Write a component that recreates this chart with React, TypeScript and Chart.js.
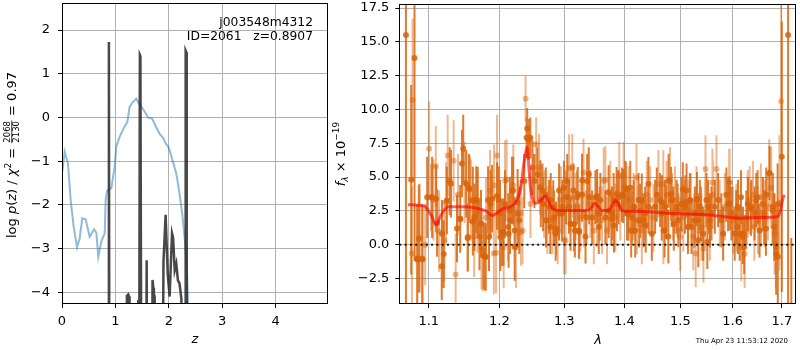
import { useEffect, useRef } from 'react';
import { Chart, registerables } from 'chart.js';

Chart.register(...registerables);

const FONT = '"DejaVu Sans", sans-serif';

// ---------- Left panel: p(z) ----------
const zChi = [0.006, 0.05, 0.112, 0.162, 0.218, 0.281, 0.33, 0.38, 0.443, 0.518, 0.6, 0.643, 0.68, 0.736, 0.8, 0.817, 0.842, 0.923, 0.986, 1.017, 1.08, 1.154, 1.223, 1.266, 1.316, 1.39, 1.44, 1.53, 1.61, 1.69, 1.765, 1.83, 1.89, 1.95, 2.0, 2.05, 2.09, 2.14, 2.2, 2.25, 2.3, 2.34, 2.36, 2.38];
const chiCurve = [-1.24, -0.785, -1.05, -1.89, -2.5, -2.97, -2.77, -2.31, -2.33, -2.73, -2.56, -2.64, -3.19, -2.84, -2.65, -1.89, -1.68, -1.62, -1.13, -0.67, -0.44, -0.25, -0.1, 0.24, 0.335, 0.43, 0.32, 0.17, 0.0, -0.03, -0.23, -0.38, -0.46, -0.61, -0.69, -0.9, -1.07, -1.28, -1.74, -2.2, -2.8, -3.57, -4.25, -5.0];

const zPz = [0, 0.868, 0.878, 0.888, 1.2, 1.215, 1.24, 1.255, 1.265, 1.415, 1.428, 1.44, 1.458, 1.468, 1.49, 1.57, 1.585, 1.6, 1.68, 1.695, 1.71, 1.72, 1.735, 1.75, 1.87, 1.9, 1.94, 1.98, 2.015, 2.06, 2.08, 2.11, 2.14, 2.17, 2.2, 2.235, 2.25, 2.305, 2.315, 2.325, 2.335, 4.98];
const logPz = [-9, -9, 1.73, -9, -9, -4.08, -4.05, -4.1, -9, -9, -4.18, -9, 1.43, 1.4, -9, -9, -3.27, -9, -9, -3.72, -3.9, -4.05, -4.1, -9, -9, -3.3, -2.23, -3.6, -4.1, -2.65, -2.75, -3.5, -3.35, -3.73, -3.8, -4.15, -9, -9, 1.53, 1.5, -9, -9];

const zTicks = [0, 1, 2, 3, 4];
const logpTicks = [-4, -3, -2, -1, 0, 1, 2];

// ---------- Right panel: spectrum ----------
const lamDark = [1.0694, 1.0764, 1.0808, 1.0844, 1.0915, 1.0978, 1.1036, 1.11, 1.1113, 1.1177, 1.1204, 1.1287, 1.1305, 1.1389, 1.1435, 1.1459, 1.1477, 1.1519, 1.1539, 1.1557, 1.1614, 1.1662, 1.1709, 1.1767, 1.1786, 1.1834, 1.1893, 1.199, 1.201, 1.2039, 1.2084, 1.2138, 1.2158, 1.2188, 1.2228, 1.2273, 1.2298, 1.2374, 1.2409, 1.2419, 1.2434, 1.245, 1.2501, 1.2531, 1.2577, 1.2629, 1.2655, 1.2707, 1.2758, 1.2785, 1.2837, 1.2863, 1.2916, 1.2969, 1.2995, 1.3048, 1.3075, 1.3155, 1.3209, 1.3236, 1.329, 1.3345, 1.3372, 1.3399, 1.3454, 1.3509, 1.3565, 1.3592, 1.3676, 1.3732, 1.3788, 1.3816, 1.3873, 1.3901, 1.3958, 1.4016, 1.4045, 1.4102, 1.4131, 1.4189, 1.4247, 1.4276, 1.4335, 1.4364, 1.4423, 1.4482, 1.4541, 1.4571, 1.463, 1.466, 1.472, 1.478, 1.4841, 1.4871, 1.4932, 1.4963, 1.5024, 1.5086, 1.5116, 1.5178, 1.5209, 1.5272, 1.5335, 1.5366, 1.5429, 1.5492, 1.5524, 1.5588, 1.5652, 1.5716, 1.578, 1.5813, 1.5877, 1.591, 1.5975, 1.604, 1.6106, 1.6139, 1.6205, 1.6272, 1.6305, 1.6372, 1.6439, 1.6472, 1.654, 1.6608, 1.6676, 1.6744, 1.6813, 1.6882, 1.6916, 1.7, 1.7132, 1.72,
  1.0866, 1.0843, 1.091, 1.1045, 1.118, 1.1248, 1.1434, 1.1567, 1.1544, 1.1614, 1.1637, 1.1684, 1.1731, 1.1801, 1.1848, 1.1871, 1.1966, 1.2013, 1.2061, 1.2133, 1.2157, 1.2205, 1.2229, 1.2277, 1.2467, 1.2622, 1.2665, 1.2711, 1.2778, 1.2825, 1.2869, 1.2917, 1.2962, 1.3031, 1.3101, 1.3148, 1.3171, 1.3218, 1.3241, 1.3288, 1.3359, 1.3406, 1.3537, 1.358, 1.3731, 1.3777, 1.3822, 1.3867, 1.398, 1.4027, 1.4072, 1.4118, 1.4164, 1.4257, 1.4304, 1.4374, 1.4421, 1.4666, 1.4712, 1.4736, 1.4785, 1.4831, 1.488, 1.495, 1.5046, 1.5093, 1.5142, 1.519, 1.5263, 1.5311, 1.5336, 1.5385, 1.5508, 1.5557, 1.594, 1.607, 1.61, 1.6165, 1.6198, 1.623, 1.6365, 1.65, 1.6637, 1.667, 1.6808, 1.6843, 1.6877, 1.6912];
const fluxDark = [15.5, 4.8, 13.8, -1.1, -1.1, 3.5, 3.5, 3.4, 1.6, -1.6, -0.7, 4.7, 4.5, 1.2, 1.9, 6.0, 7.1, 4.5, 0.5, 4.2, 1.7, 3.3, 0.6, -0.8, -0.9, 3.3, 3.4, 3.3, 2.3, 0.9, 3.0, 0.8, 1.8, 4.0, 1.05, 3.1, 1.8, 4.7, 7.9, 8.6, 7.8, 7.8, 5.7, 4.7, 5.2, 3.3, 4.0, 3.7, 2.8, 3.3, 2.0, 0.8, 2.3, 2.8, 4.2, 4.7, 2.8, 1.5, 3.5, 1.05, 3.7, 0.6, 4.7, 5.2, 2.0, 3.5, 1.3, 3.3, 2.0, 2.5, 2.3, 3.3, 3.0, 3.5, 3.7, 4.2, 2.3, 4.2, 2.0, 1.05, 3.3, 2.5, 1.8, 2.3, 2.8, 0.8, 2.8, 3.7, 3.3, 2.3, 2.8, 0.6, 3.3, 2.3, 2.8, 1.8, 3.0, 2.8, 4.0, 3.3, 1.3, 2.3, 1.8, 2.8, 0.8, 3.3, 2.8, 2.3, 2.8, 3.3, 1.8, 0.8, 3.7, 3.0, 2.3, 0.8, 2.8, 0.8, 0.8, 2.0, 3.0, 2.8, 2.3, 3.3, 1.05, 3.0, 3.7, 5.3, 2.8, -0.7, -0.9, 6.5, 15.5, -4.5,
  0.44, -1.03, -1.03, 3.5, 0.81, 3.26, 1.91, 4.1, 0.56, 3.26, 2.03, 3.26, 1.54, -0.91, 0.56, 3.0, 3.6, 0.56, 0.93, 1.3, 2.52, 4.0, -0.17, 2.28, 7.9, 4.24, 3.0, 1.79, 1.3, 2.76, 1.18, 4.0, 2.28, 3.5, 1.54, 4.0, 1.05, 3.75, 0.93, 4.73, 2.03, 3.5, 3.6, 2.28, 3.87, 1.91, 1.42, 3.75, 3.6, 4.1, 2.28, 1.05, 2.76, 1.79, 3.26, 1.42, 4.49, 3.13, 1.05, 2.4, 4.73, 3.75, 1.54, 2.52, 4.1, 3.13, 1.3, 3.26, 1.79, 3.38, 0.32, 2.28, 0.2, 1.79, 3.06, 2.03, 1.3, 3.5, 0.56, -0.17, 2.65, 3.5, 2.03, 1.18, 2.52, 1.3, -0.17, 3.0];
const errDark = [20, 7, 15, 4, 4, 3, 2.5, 2.5, 2.5, 2.5, 2.5, 2.5, 2.5, 2.5, 2.5, 2.5, 2.5, 2.5, 2.5, 2.5, 2.5, 2.5, 2.5, 2.5, 2.5, 2.5, 2.5, 2.5, 2.5, 2.5, 2.5, 2.5, 2.5, 2.5, 2.5, 2.5, 2.5, 2, 1.5, 1.5, 1.5, 1.5, 2, 2, 2, 2, 2, 2, 2, 2, 2, 2, 2, 2, 2, 2, 2, 2, 2, 2, 2, 2, 2, 2, 2, 2, 2, 2, 2, 2, 2, 2, 2, 2, 2, 2, 2, 2, 2, 2, 2, 2, 2, 2, 2, 2, 2, 2, 2, 2, 2, 2, 2, 2, 2, 2, 2, 2, 2, 2, 2, 2, 2, 2, 2, 2, 2, 2, 2, 2, 2, 2, 2, 2, 2, 2, 2, 2, 2, 2, 2, 2, 2, 2, 2, 2, 2, 2, 2.5, 3, 4, 10, 20, 5,
  4, 4, 4, 3, 2.5, 2.5, 2.5, 2.5, 2.5, 2.5, 2.5, 2.5, 2.5, 2.5, 2.5, 2.5, 2.5, 2.5, 2.5, 2.5, 2.5, 2.5, 2.5, 2.5, 1.5, 2, 2, 2, 2, 2, 2, 2, 2, 2, 2, 2, 2, 2, 2, 2, 2, 2, 2, 2, 2, 2, 2, 2, 2, 2, 2, 2, 2, 2, 2, 2, 2, 2, 2, 2, 2, 2, 2, 2, 2, 2, 2, 2, 2, 2, 2, 2, 2, 2, 2, 2, 2, 2, 2, 2, 2, 2, 2, 2, 2.5, 2.5, 3, 3];

const lamLight = [1.0773, 1.0782, 1.0879, 1.0951, 1.1004, 1.1063, 1.1095, 1.114, 1.1213, 1.1236, 1.1259, 1.1342, 1.137, 1.1403, 1.1496, 1.1586, 1.1633, 1.1681, 1.1738, 1.1805, 1.1863, 1.1922, 1.1951, 1.1966, 1.2064, 1.2108, 1.2208, 1.2248, 1.2323, 1.2348, 1.2394, 1.247, 1.2557, 1.2603, 1.2681, 1.2733, 1.2811, 1.2895, 1.2947, 1.3022, 1.3102, 1.3129, 1.3182, 1.3263, 1.3317, 1.3427, 1.3482, 1.3537, 1.362, 1.3648, 1.3704, 1.376, 1.3845, 1.393, 1.3987, 1.4073, 1.416, 1.4218, 1.4305, 1.4393, 1.4452, 1.4511, 1.46, 1.469, 1.475, 1.4811, 1.4902, 1.4993, 1.5055, 1.5147, 1.5241, 1.5303, 1.5397, 1.5461, 1.5556, 1.562, 1.5684, 1.5748, 1.5845, 1.5942, 1.6008, 1.6073, 1.6172, 1.6238, 1.6338, 1.6405, 1.6506, 1.6574, 1.6642, 1.671, 1.6778, 1.6847, 1.6951, 1.6985,
  1.2085, 1.1754, 1.1919, 1.2325, 1.2995, 1.3077, 1.3312, 1.3912, 1.4211, 1.4689, 1.4998, 1.5434, 1.5473, 1.5606, 1.5287, 1.3676, 1.5931, 1.6298, 1.6433, 1.6568, 1.6739];
const fluxLight = [-0.65, 10.7, 0.5, 0.0, 7.1, 3.3, 5.8, 1.0, 0.3, 3.1, 6.6, 6.2, -2.2, 3.7, 4.6, 3.3, 0.6, 2.4, -0.3, 2.0, 4.0, 4.4, -0.6, 6.6, -0.2, 4.8, 4.4, -0.2, 2.3, 1.05, 10.8, 3.0, 7.4, 5.7, 3.0, 1.8, 1.8, 1.05, 3.3, 0.3, 3.5, 5.7, 2.8, 2.0, 2.3, 3.0, 1.05, 2.3, 1.8, 4.7, 1.05, 3.7, 2.0, 2.8, 5.1, 3.3, 2.8, 1.8, 1.05, 3.7, 3.3, 2.0, 4.5, 1.05, 3.7, 4.7, 3.3, 1.05, 2.0, 2.3, 0.6, 3.3, 1.3, 2.3, 1.3, 3.7, 5.6, 2.3, 2.8, 4.6, 1.8, 2.0, -0.2, -0.7, 3.3, 3.7, 1.8, 2.3, 2.3, 2.8, 4.2, 0.8, 3.1, 10.6,
  4.73, -0.42, -0.66, 0.93, 0.32, 5.66, 5.34, 5.1, 4.97, 4.49, 0.56, -0.3, 5.59, 4.6, -0.66, 4.78, 4.6, 3.0, 1.3, 3.5, 5.29];
const errLight = [5, 6, 4, 3, 3.5, 3, 3, 3, 3, 3, 3, 3, 3, 3, 3, 3, 3, 3, 3, 3, 3, 3, 3, 3, 3, 3, 3, 3, 2.5, 2.5, 1.7, 2.5, 2, 2.5, 2.5, 2.5, 2.5, 2.5, 2.5, 2.5, 2.5, 2.5, 2.5, 2.5, 2.5, 2.5, 2.5, 2.5, 2.5, 2.5, 2.5, 2.5, 2.5, 2.5, 2.5, 2.5, 2.5, 2.5, 2.5, 2.5, 2.5, 2.5, 2.5, 2.5, 2.5, 2.5, 2.5, 2.5, 2.5, 2.5, 2.5, 2.5, 2.5, 2.5, 2.5, 2.5, 2.5, 2.5, 2.5, 2.5, 2.5, 2.5, 2.5, 2.5, 2.5, 2.5, 2.5, 2.5, 2.5, 2.5, 3, 3, 5, 8,
  3, 3, 3, 2.5, 2.5, 2.5, 2.5, 2.5, 2.5, 2.5, 2.5, 2.5, 2.5, 2.5, 2.5, 2.5, 2.5, 2.5, 2.5, 2.5, 2.5];

const lamModel = [1.072, 1.085, 1.094, 1.0977, 1.104, 1.1099, 1.115, 1.121, 1.127, 1.147, 1.166, 1.18, 1.189, 1.195, 1.205, 1.22, 1.227, 1.232, 1.236, 1.24, 1.242, 1.2434, 1.247, 1.251, 1.255, 1.263, 1.27, 1.276, 1.282, 1.292, 1.307, 1.334, 1.345, 1.349, 1.354, 1.362, 1.373, 1.379, 1.3845, 1.389, 1.396, 1.407, 1.442, 1.466, 1.502, 1.527, 1.559, 1.591, 1.617, 1.644, 1.678, 1.692, 1.697, 1.703, 1.706];
const fluxModel = [2.96, 2.92, 2.85, 2.65, 2.1, 1.45, 2.0, 2.55, 2.8, 2.8, 2.7, 2.5, 2.15, 2.3, 2.65, 2.9, 3.4, 4.2, 5.7, 6.9, 7.2, 6.45, 4.2, 3.26, 3.06, 3.26, 3.6, 3.1, 2.65, 2.52, 2.52, 2.52, 2.77, 3.06, 2.9, 2.52, 2.52, 2.9, 3.26, 3.1, 2.52, 2.47, 2.43, 2.35, 2.28, 2.25, 2.18, 2.03, 1.96, 2.0, 2.03, 2.08, 2.52, 3.5, 3.68];

const lamTicks = [1.1, 1.2, 1.3, 1.4, 1.5, 1.6, 1.7];
const fluxTicks = [-2.5, 0, 2.5, 5, 7.5, 10, 12.5, 15, 17.5];
const LAM_MIN = 1.0607;
const LAM_MAX = 1.73;

const minus = (s: string) => s.replace('-', '\u2212');

type Piece = { t: string; size: number; italic?: boolean; dy?: number; frac?: [string, string] };

function fontOf(p: Piece) {
  return `${p.italic ? 'italic ' : ''}${p.size}px ${FONT}`;
}

function drawPieces(ctx: CanvasRenderingContext2D, pieces: Piece[], cx: number, cy: number, rotate: boolean) {
  ctx.save();
  ctx.translate(cx, cy);
  if (rotate) ctx.rotate(-Math.PI / 2);
  ctx.fillStyle = '#000';
  ctx.textBaseline = 'alphabetic';
  ctx.textAlign = 'left';
  const widths = pieces.map((p) => {
    ctx.font = fontOf(p);
    if (p.frac) return Math.max(ctx.measureText(p.frac[0]).width, ctx.measureText(p.frac[1]).width) + 2;
    return ctx.measureText(p.t).width;
  });
  const total = widths.reduce((a, b) => a + b, 0);
  let x = -total / 2;
  pieces.forEach((p, i) => {
    ctx.font = fontOf(p);
    const w = widths[i];
    if (p.frac) {
      ctx.textAlign = 'center';
      ctx.fillText(p.frac[0], x + w / 2, -5.8);
      ctx.fillText(p.frac[1], x + w / 2, 3.2);
      ctx.fillRect(x + 0.5, -4.6, w - 1, 0.8);
      ctx.textAlign = 'left';
    } else {
      ctx.fillText(p.t, x, p.dy || 0);
    }
    x += w;
  });
  ctx.restore();
}

function frame(chart: any) {
  const { ctx, chartArea: a } = chart;
  ctx.save();
  ctx.strokeStyle = '#000';
  ctx.lineWidth = 1;
  ctx.strokeRect(Math.round(a.left) + 0.5, Math.round(a.top) + 0.5, Math.round(a.right - a.left) - 1, Math.round(a.bottom - a.top) - 1);
  ctx.restore();
}

function gridOpts() {
  return { color: '#b0b0b0', lineWidth: 1, tickColor: '#000', tickLength: 4, drawTicks: true };
}

function tickFont() {
  return { family: FONT, size: 13 };
}

const leftLabels = {
  id: 'leftLabels',
  afterDraw(chart: any) {
    frame(chart);
    const ctx = chart.ctx as CanvasRenderingContext2D;
    drawPieces(ctx, [
      { t: 'log ', size: 13 },
      { t: 'p', size: 13, italic: true },
      { t: '(', size: 13 },
      { t: 'z', size: 13, italic: true },
      { t: ') / ', size: 13 },
      { t: '\u03c7', size: 13, italic: true },
      { t: '2', size: 9, dy: -5.5 },
      { t: ' = ', size: 13 },
      { t: '', size: 8.5, frac: ['2068', '2130'] },
      { t: ' = 0.97', size: 13 },
    ], 16, 155, true);
    ctx.save();
    ctx.fillStyle = '#000';
    ctx.font = `12.3px ${FONT}`;
    ctx.textAlign = 'right';
    ctx.textBaseline = 'alphabetic';
    ctx.fillText('j003548m4312', 313, 25.5);
    ctx.fillText('ID=2061   z=0.8907', 313, 40);
    ctx.font = `italic 13px ${FONT}`;
    ctx.textAlign = 'center';
    ctx.fillText('z', 195, 343);
    ctx.restore();
  },
};

const rightLabels = {
  id: 'rightLabels',
  afterDraw(chart: any) {
    frame(chart);
    const ctx = chart.ctx as CanvasRenderingContext2D;
    drawPieces(ctx, [
      { t: 'f', size: 13, italic: true },
      { t: '\u03bb', size: 9, italic: true, dy: 3 },
      { t: ' \u00d7 10', size: 13 },
      { t: '\u221219', size: 9, dy: -6 },
    ], 15, 154, true);
    ctx.save();
    ctx.fillStyle = '#000';
    ctx.font = `italic 13px ${FONT}`;
    ctx.textAlign = 'center';
    ctx.textBaseline = 'alphabetic';
    ctx.fillText('\u03bb', 598 - 330, 344);
    ctx.font = `7px ${FONT}`;
    ctx.textAlign = 'right';
    ctx.fillText('Thu Apr 23 11:53:12 2020', 788 - 330, 342.5);
    ctx.restore();
  },
};

function pts(xs: number[], ys: number[]) {
  return xs.map((x, i) => ({ x, y: ys[i] }));
}

function errSegs(xs: number[], ys: number[], es: number[]) {
  const out: { x: number; y: number | null }[] = [];
  xs.forEach((x, i) => {
    out.push({ x, y: ys[i] - es[i] }, { x, y: ys[i] + es[i] }, { x, y: null });
  });
  return out;
}

export default function App() {
  const leftRef = useRef<HTMLCanvasElement>(null);
  const rightRef = useRef<HTMLCanvasElement>(null);

  useEffect(() => {
    const left = new Chart(leftRef.current!, {
      type: 'scatter',
      data: {
        datasets: [
          {
            type: 'line',
            data: pts(zPz, logPz),
            borderColor: 'rgba(40,40,40,0.85)',
            borderWidth: 2.5,
            pointRadius: 0,
            tension: 0,
            order: 1,
          } as any,
          {
            type: 'line',
            data: pts(zChi, chiCurve),
            borderColor: 'rgba(31,119,180,0.5)',
            borderWidth: 2,
            pointRadius: 0,
            tension: 0,
            order: 2,
          } as any,
        ],
      },
      options: {
        responsive: false,
        animation: false,
        layout: { padding: { left: 0, right: 2, top: 3, bottom: 0 } },
        plugins: { legend: { display: false }, tooltip: { enabled: false } },
        scales: {
          x: {
            type: 'linear',
            min: 0,
            max: 4.98,
            afterBuildTicks: (s: any) => { s.ticks = zTicks.map((v) => ({ value: v })); },
            afterFit: (s: any) => { s.height = 46; s.paddingLeft = 0; s.paddingRight = 0; },
            grid: gridOpts(),
            border: { display: false },
            ticks: { color: '#000', font: tickFont(), padding: 6, maxRotation: 0, autoSkip: false, callback: (v: any) => minus(String(v)) },
          },
          y: {
            type: 'linear',
            min: -4.27,
            max: 2.62,
            afterBuildTicks: (s: any) => { s.ticks = logpTicks.map((v) => ({ value: v })); },
            afterFit: (s: any) => { s.width = 62; s.paddingTop = 0; s.paddingBottom = 0; },
            grid: gridOpts(),
            border: { display: false },
            ticks: { color: '#000', font: tickFont(), padding: 8, autoSkip: false, callback: (v: any) => minus(String(v)) },
          },
        },
      },
      plugins: [leftLabels],
    } as any);

    const right = new Chart(rightRef.current!, {
      type: 'scatter',
      data: {
        datasets: [
          {
            type: 'line',
            data: [{ x: LAM_MIN, y: 0 }, { x: LAM_MAX, y: 0 }],
            borderColor: 'rgba(0,0,0,0.85)',
            borderWidth: 2,
            borderDash: [2, 3.3],
            pointRadius: 0,
            order: 0,
          } as any,
          {
            type: 'line',
            data: pts(lamModel, fluxModel),
            borderColor: 'rgba(255,0,0,0.62)',
            borderWidth: 3,
            pointRadius: 0,
            cubicInterpolationMode: 'monotone',
            order: 1,
          } as any,
          {
            type: 'scatter',
            data: pts(lamDark, fluxDark),
            backgroundColor: 'rgba(217,100,10,0.85)',
            borderWidth: 0,
            pointRadius: 3,
            order: 2,
          } as any,
          {
            type: 'line',
            data: errSegs(lamDark, fluxDark, errDark),
            borderColor: 'rgba(217,100,10,0.85)',
            borderWidth: 2,
            pointRadius: 0,
            spanGaps: false,
            order: 3,
          } as any,
          {
            type: 'scatter',
            data: pts(lamLight, fluxLight),
            backgroundColor: 'rgba(217,95,2,0.45)',
            borderWidth: 0,
            pointRadius: 3,
            order: 4,
          } as any,
          {
            type: 'line',
            data: errSegs(lamLight, fluxLight, errLight),
            borderColor: 'rgba(217,95,2,0.45)',
            borderWidth: 2,
            pointRadius: 0,
            spanGaps: false,
            order: 5,
          } as any,
        ],
      },
      options: {
        responsive: false,
        animation: false,
        layout: { padding: { left: 0, right: 0.7, top: 3.3, bottom: 0 } },
        plugins: { legend: { display: false }, tooltip: { enabled: false } },
        scales: {
          x: {
            type: 'logarithmic',
            min: LAM_MIN,
            max: LAM_MAX,
            afterBuildTicks: (s: any) => { s.ticks = lamTicks.map((v) => ({ value: v })); },
            afterFit: (s: any) => { s.height = 46; s.paddingLeft = 0; s.paddingRight = 0; },
            grid: gridOpts(),
            border: { display: false },
            ticks: { color: '#000', font: tickFont(), padding: 6, maxRotation: 0, autoSkip: false, callback: (v: any) => Number(v).toFixed(1) },
          },
          y: {
            type: 'linear',
            min: -4.39,
            max: 17.8,
            afterBuildTicks: (s: any) => { s.ticks = fluxTicks.map((v) => ({ value: v })); },
            afterFit: (s: any) => { s.width = 69.3; s.paddingTop = 0; s.paddingBottom = 0; },
            grid: gridOpts(),
            border: { display: false },
            ticks: { color: '#000', font: tickFont(), padding: 6, autoSkip: false, callback: (v: any) => minus(Number(v).toFixed(1)) },
          },
        },
      },
      plugins: [rightLabels],
    } as any);

    return () => {
      left.destroy();
      right.destroy();
    };
  }, []);

  return (
    <div style={{ position: 'absolute', left: 0, top: 0, width: 800, height: 350, background: '#fff' }}>
      <canvas ref={leftRef} width={330} height={350} style={{ position: 'absolute', left: 0, top: 0 }} />
      <canvas ref={rightRef} width={470} height={350} style={{ position: 'absolute', left: 330, top: 0 }} />
    </div>
  );
}
